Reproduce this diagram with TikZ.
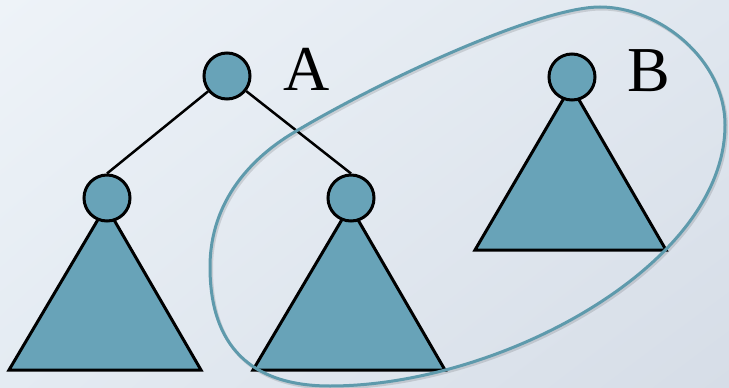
\documentclass[tikz,border=0pt]{standalone}
\usepackage{fontspec}
\usetikzlibrary{shadings}
\newfontfamily\labfont{Liberation Serif}
\definecolor{teal1}{RGB}{104,163,184}
\definecolor{ring}{RGB}{94,154,172}
\definecolor{bgUL}{RGB}{238,243,248}
\definecolor{bgUR}{RGB}{224,231,239}
\definecolor{bgLL}{RGB}{228,235,242}
\definecolor{bgLR}{RGB}{214,221,231}
\begin{document}
\begin{tikzpicture}[x=1pt,y=-1pt,
  tnode/.style={circle,draw=black,fill=teal1,line width=3pt,minimum size=46pt,inner sep=0pt},
  subtree/.style={draw=black,fill=teal1,line width=3pt,line join=miter},
  edge/.style={draw=black,line width=2.5pt},
  lab/.style={inner sep=0pt,anchor=base,font=\labfont\fontsize{64}{64}\selectfont},
  group/.style={draw=ring,line width=3pt},
  groupshadow/.style={draw=black,opacity=0.12,line width=3pt}]
\useasboundingbox (0,0) rectangle (729,388);
\shade[upper left=bgUL,upper right=bgUR,lower left=bgLL,lower right=bgLR] (0,0) rectangle (729,388);
% subtrees
\draw[subtree] (106,206) -- (9,370) -- (201,370) -- cycle;
\draw[subtree] (350,206) -- (253,370) -- (445,370) -- cycle;
\draw[subtree] (571,86) -- (475,250) -- (666,250) -- cycle;
% nodes
\node[tnode] (A) at (227,76) {};
\node[tnode] (L) at (107,198) {};
\node[tnode] (R) at (351,198) {};
\node[tnode] (B) at (572,77) {};
\draw[edge] (A) -- (L.north);
\draw[edge] (A) -- (R.north);
% labels
\node[lab] (labA) at (306.5,90) {A};
\node[lab] (labB) at (649,91) {B};
% group outline
\def\grouppath{(600,7) .. controls (660,7) and (725,60) .. (725,125)
  .. controls (725,265) and (500,386) .. (330,386)
  .. controls (250,386) and (210,345) .. (210,267)
  .. controls (210,200) and (253,157) .. (293,133)
  .. controls (383,79) and (540,7) .. (600,7) -- cycle}
\draw[groupshadow,shift={(1.5,2)}] \grouppath;
\draw[group] \grouppath;
\end{tikzpicture}
\end{document}
